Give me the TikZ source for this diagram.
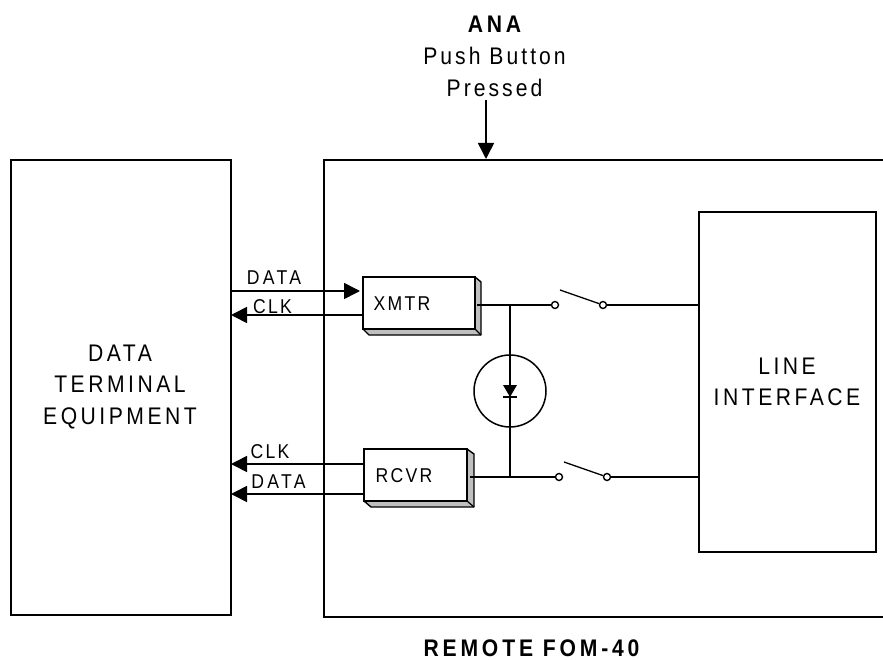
\documentclass[tikz,border=0pt]{standalone}
\usepackage{fontspec}
\setmainfont{Liberation Sans}
\usetikzlibrary{arrows.meta}
\newcommand{\bigtxt}{\fontsize{24}{31.5}\selectfont\addfontfeature{FakeStretch=0.88,LetterSpace=14.6}}
\newcommand{\midtxt}{\fontsize{24}{31.5}\selectfont\addfontfeature{FakeStretch=0.88,LetterSpace=12.7}}
\newcommand{\boldtxt}{\bfseries\fontsize{24}{31.5}\selectfont\addfontfeature{FakeStretch=0.88,LetterSpace=16}}
\newcommand{\smalltxt}{\fontsize{20}{24}\selectfont\addfontfeature{FakeStretch=0.88,LetterSpace=11.5}}
\newcommand{\smalldata}{\fontsize{20}{24}\selectfont\addfontfeature{FakeStretch=0.88,LetterSpace=16.6}}
\begin{document}
\begin{tikzpicture}[x=1pt,y=-1pt,
  wire/.style={line width=1.6pt,line cap=butt},
  sig/.style={wire,-{Triangle[length=16pt,width=16pt]}},
  boxs/.style={draw,line width=1.6pt,outer sep=0pt,inner sep=0pt},
  lab/.style={inner sep=0pt,anchor=base,text=black},
  mlab/.style={inner sep=0pt,anchor=center,text=black,align=center},
  term/.style={circle,draw,line width=1.4pt,fill=white,inner sep=0pt,minimum size=7pt},
  shade3d/.style={draw,line width=1.4pt,fill=black!25,line join=round}]
\useasboundingbox (0,0) rectangle (883,660);
% large boxes
\node[boxs,anchor=north west,minimum width=220pt,minimum height=455pt] (dte) at (11,160) {};
\coordinate (mtr) at (883,160);
\coordinate (mtl) at (324,160);
\coordinate (mbl) at (324,617);
\coordinate (mbr) at (883,617);
\draw[wire,line join=miter] (mtr) -- (mtl) -- (mbl) -- (mbr);
\node[boxs,anchor=north west,minimum width=177pt,minimum height=340pt] (li) at (699,212) {};
% 3D blocks
\draw[shade3d] (475,277) -- (481,282) -- (481,335) -- (369,335) -- (363,329) -- (475,329) -- cycle;
\node[boxs,fill=white,anchor=north west,minimum width=112pt,minimum height=52pt] (xmtr) at (363,277) {};
\draw[line width=1.2pt] (xmtr.south east) -- (481,335);
\draw[shade3d] (467,449) -- (474,454) -- (474,507) -- (371,507) -- (364,501) -- (467,501) -- cycle;
\node[boxs,fill=white,anchor=north west,minimum width=103pt,minimum height=52pt] (rcvr) at (364,449) {};
\draw[line width=1.2pt] (rcvr.south east) -- (474,507);
% terminals
\node[term] (t1) at (555,305) {};
\node[term] (t2) at (603,305) {};
\node[term] (t3) at (559,477) {};
\node[term] (t4) at (607,477) {};
% coordinates
\coordinate (dA) at (231,291);
\coordinate (dB) at (360,291);
\coordinate (c1a) at (363,315);
\coordinate (c1b) at (231,315);
\coordinate (c2a) at (364,464);
\coordinate (c2b) at (231,464);
\coordinate (d2a) at (364,494);
\coordinate (d2b) at (231,494);
\coordinate (w1) at (477,305);
\coordinate (w2) at (470,477);
\coordinate (jt) at (510,305);
\coordinate (jb) at (510,477);
\coordinate (a1) at (560,290);
\coordinate (a2) at (564,462);
\coordinate (l1) at (699,305);
\coordinate (l2) at (700,477);
\coordinate (pb) at (486,100);
\coordinate (pe) at (486,159);
% signals
\draw[sig] (dA) -- (dB);
\draw[sig] (c1a) -- (c1b);
\draw[sig] (c2a) -- (c2b);
\draw[sig] (d2a) -- (d2b);
\draw[sig] (pb) -- (pe);
% switch wiring
\draw[wire] (w1) -- (t1);
\draw[wire] (w2) -- (t3);
\draw[wire] (t2) -- (l1);
\draw[wire] (t4) -- (l2);
\draw[line width=1.3pt] (a1) -- (t2);
\draw[line width=1.3pt] (a2) -- (t4);
\draw[wire] (jt) -- (jb);
% LED
\node[circle,draw,line width=1.5pt,minimum size=72pt,inner sep=0pt,outer sep=0pt] (led) at (510,391) {};
\fill (503,385) -- (517,385) -- (510,397) -- cycle;
\draw[line width=1.5pt] (503,397) -- (517,397);
% text
\node[lab,font=\boldtxt] (t_ana) at (494.5,33) {ANA};
\node[lab,font=\midtxt] (t_pb) at (494.5,65) {Push Button};
\node[lab,font=\midtxt] (t_pr) at (494.5,97) {Pressed};
\node[lab,font=\boldtxt] (t_rem) at (531.5,656) {REMOTE FOM-40};
\node[mlab,font=\bigtxt] (t_dte) at (120,387) {DATA\\TERMINAL\\EQUIPMENT};
\node[mlab,font=\bigtxt] (t_li) at (787,382) {LINE\\INTERFACE};
\node[lab,font=\smalldata] (t_d1) at (274,284) {DATA};
\node[lab,font=\smalltxt] (t_c1) at (272.5,313) {CLK};
\node[lab,font=\smalltxt] (t_x) at (402,310) {XMTR};
\node[lab,font=\smalltxt] (t_r) at (404,482) {RCVR};
\node[lab,font=\smalltxt] (t_c2) at (270,458) {CLK};
\node[lab,font=\smalldata] (t_d2) at (278.5,488) {DATA};
\end{tikzpicture}
\end{document}
